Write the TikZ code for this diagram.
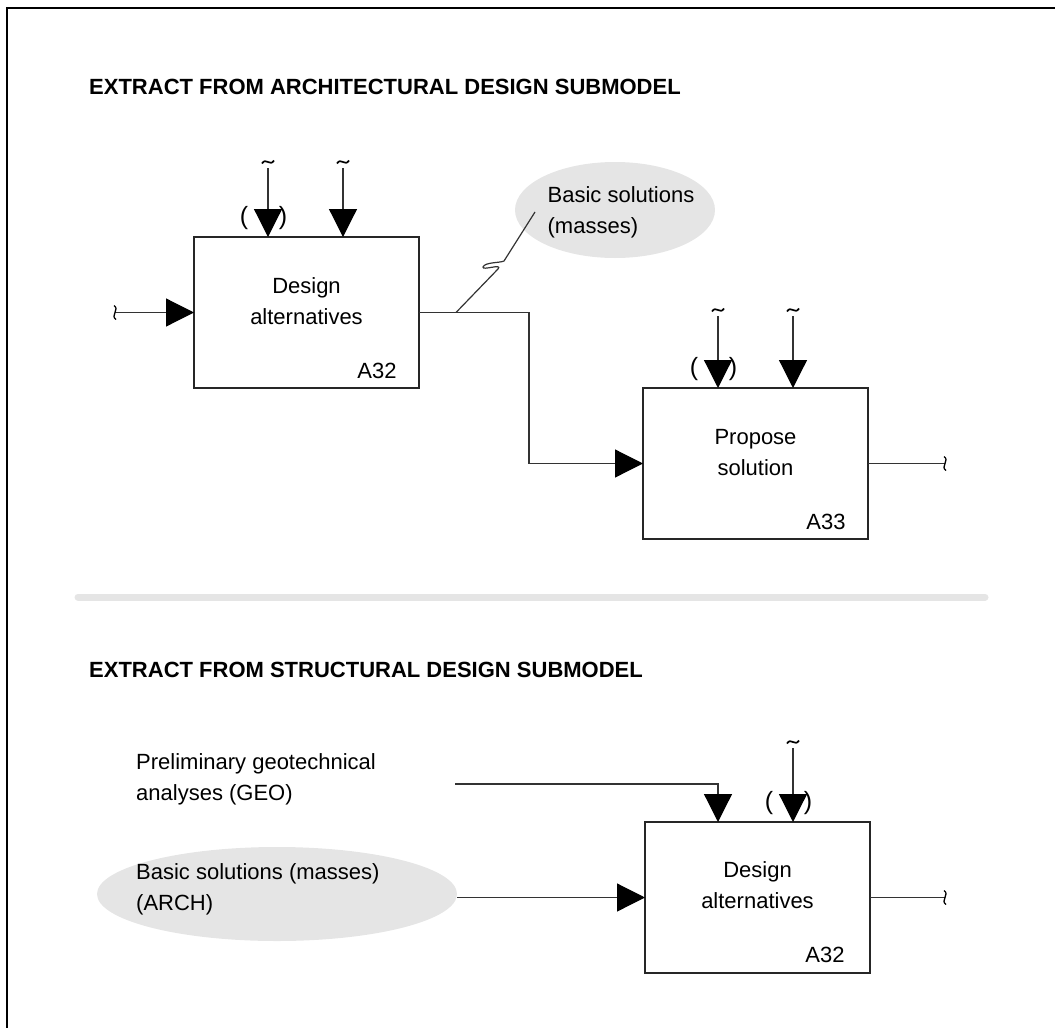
\documentclass[tikz,border=0pt]{standalone}
\usepackage{fontspec}
\setmainfont{Liberation Sans}
\usetikzlibrary{arrows.meta,calc,shapes.geometric}

\begin{document}
\begin{tikzpicture}[x=1pt,y=-1pt,
  proc/.style={draw=black!85, line width=1.4pt, minimum width=225pt,
               minimum height=151pt, inner sep=0pt, outer sep=0pt},
  flow/.style={draw=black!80, line width=1.2pt},
  arr/.style={flow, -{Triangle[width=28pt,length=28pt,color=black,fill=black]}},
  lbl/.style={font=\fontsize{22}{31}\selectfont, inner sep=0pt},
  heading/.style={font=\bfseries\fontsize{22}{26}\selectfont, inner sep=0pt, anchor=west},
  paren/.style={font=\fontsize{25}{25}\selectfont, inner sep=0pt},
  bubble/.style={ellipse, fill=black!10, draw=none, inner sep=0pt},
  tildemark/.pic={\draw[line width=1.7pt] (-6,1.5) .. controls (-2,-5) and (2,5) .. (6,-1.5);},
  endwave/.pic={\draw[line width=1.3pt] (-1,-7) .. controls (5,-3) and (-5,3) .. (1,7);}
]
\useasboundingbox (0,0) rectangle (1055,1028);
\clip (0,0) rectangle (1055,1028);

% outer frame (open to the right and bottom)
\draw[line width=2.6pt] (7,1040) -- (7,8) -- (1070,8);

% headings and separator
\node[heading] (t1) at (89,87) {EXTRACT FROM ARCHITECTURAL DESIGN SUBMODEL};
\node[heading] (t2) at (89,670) {EXTRACT FROM STRUCTURAL DESIGN SUBMODEL};
\draw[line width=7pt, line cap=round, black!10] (78,597) -- (985,597);

% ---------------- architectural submodel ----------------
\node[proc] (b1) at (306.5,312.5) {};
\node[lbl, align=center] (b1t) at ($(b1.center)+(0,-11)$) {Design\\alternatives};
\node[lbl] (b1id) at ($(b1.south east)+(-42,-17)$) {A32};

\node[proc] (b2) at (755.5,463.5) {};
\node[lbl, align=center] (b2t) at ($(b2.center)+(0,-11)$) {Propose\\solution};
\node[lbl] (b2id) at ($(b2.south east)+(-42,-17)$) {A33};

\node[bubble, minimum width=200pt, minimum height=96pt] (e1) at (615,210) {};
\node[lbl, align=left] (e1t) at (621,212) {Basic solutions\\(masses)};

% controls of A32
\coordinate (c1) at (268,168);
\coordinate (c2) at (343,168);
\draw[arr] (c1) -- (c1 |- b1.north);
\draw[arr] (c2) -- (c2 |- b1.north);
\pic at ($(c1)+(0,-6)$) {tildemark};
\pic at ($(c2)+(0,-6)$) {tildemark};
\node[paren] (p1l) at ($(c1 |- b1.north)+(-24,-19)$) {(};
\node[paren] (p1r) at ($(c1 |- b1.north)+(15,-19)$) {)};

% input of A32
\coordinate (in1) at (115,312.5);
\draw[arr] (in1) -- (b1.west);
\pic at (in1) {endwave};

% output of A32 into A33, with its note
\draw[arr] (b1.east) -- ++(110,0) |- (b2.west);
\coordinate (k0) at (456,312.5);
\draw[flow] (k0) -- (498,269) .. controls (503,263) and (482,271) .. (483,267)
  .. controls (485,262) and (500,263) .. (504,261) -- ($(e1.center)+(-80,2)$);

% controls of A33
\coordinate (c3) at (718,316);
\coordinate (c4) at (793,316);
\draw[arr] (c3) -- (c3 |- b2.north);
\draw[arr] (c4) -- (c4 |- b2.north);
\pic at ($(c3)+(0,-6)$) {tildemark};
\pic at ($(c4)+(0,-6)$) {tildemark};
\node[paren] (p2l) at ($(c3 |- b2.north)+(-24,-19)$) {(};
\node[paren] (p2r) at ($(c3 |- b2.north)+(15,-19)$) {)};

% output of A33
\draw[flow] (b2.east) -- ++(77,0) coordinate (o2);
\pic at (o2) {endwave};

% ---------------- structural submodel ----------------
\node[proc] (b3) at (757.5,897.5) {};
\node[lbl, align=center] (b3t) at ($(b3.center)+(0,-12)$) {Design\\alternatives};
\node[lbl] (b3id) at ($(b3.south east)+(-45,-18)$) {A32};

\node[lbl, align=left, anchor=west] (geo) at (136,779) {Preliminary geotechnical\\analyses (GEO)};
\coordinate (g0) at (455,784);
\draw[arr] (g0) -| ($(b3.north west)+(73,0)$);

\node[bubble, minimum width=360pt, minimum height=94pt] (e2) at (277,894) {};
\node[lbl, align=left, anchor=west] (e2t) at (136,889) {Basic solutions (masses)\\(ARCH)};
\draw[arr] (e2.east |- b3.west) -- (b3.west);

% control of lower A32
\coordinate (c5) at (793,748);
\draw[arr] (c5) -- (c5 |- b3.north);
\pic at ($(c5)+(0,-6)$) {tildemark};
\node[paren] (p3l) at ($(c5 |- b3.north)+(-24,-19)$) {(};
\node[paren] (p3r) at ($(c5 |- b3.north)+(15,-19)$) {)};

% output of lower A32
\draw[flow] (b3.east) -- ++(75,0) coordinate (o3);
\pic at (o3) {endwave};
\end{tikzpicture}
\end{document}
